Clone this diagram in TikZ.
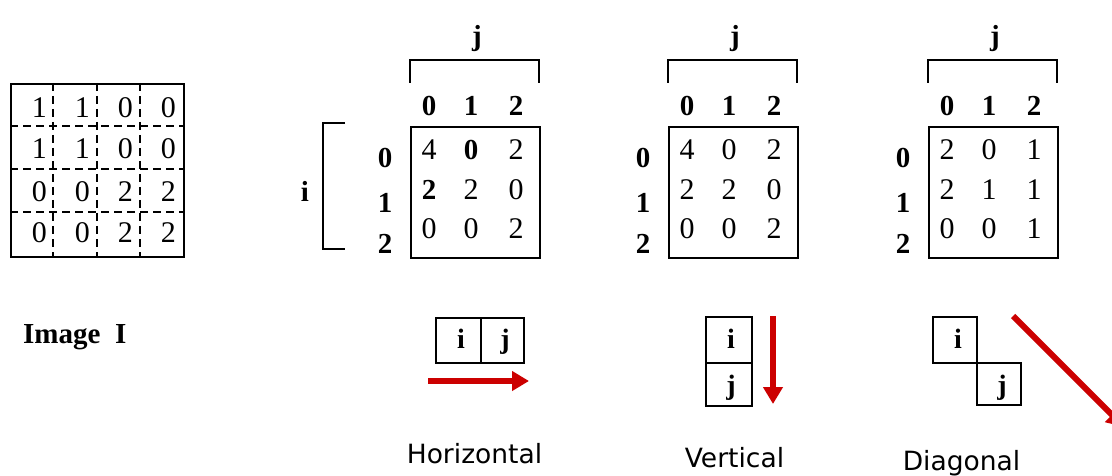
\documentclass[tikz,border=0pt]{standalone}
\usepackage{fontspec}
\setmainfont{Liberation Serif}
\newfontfamily\captionsans{DejaVu Sans}
\usetikzlibrary{arrows.meta}
\definecolor{arrowred}{HTML}{CC0000}
\begin{document}
\begin{tikzpicture}[x=1pt,y=-1pt,
  num/.style={font=\fontsize{30}{33}\selectfont, inner sep=0pt, anchor=base},
  bnum/.style={font=\fontsize{29}{32}\selectfont\bfseries, inner sep=0pt, anchor=base},
  rnum/.style={font=\fontsize{30}{33}\selectfont, inner sep=0pt, anchor=base east},
  letter/.style={font=\fontsize{28}{31}\selectfont\bfseries, inner sep=0pt, anchor=base},
  caption/.style={font=\captionsans\fontsize{26.5}{30}\selectfont, inner sep=0pt, anchor=base},
  frame/.style={line width=2pt},
  dashline/.style={line width=1.5pt, dash pattern=on 8pt off 5pt},
  matbox/.style={draw, frame, minimum width=129pt, minimum height=131pt, inner sep=0pt, anchor=north west},
  cellbox/.style={draw, line width=1.8pt, inner sep=0pt, anchor=north west},
  redarrow/.style={draw=arrowred, line width=6pt, -{Triangle[length=17pt,width=19pt]}}
]
\clip (0,0) rectangle (1112,476);
\fill[white] (0,0) rectangle (1112,476);

% ---------- image I: 4x4 grid with dashed cell borders ----------
\node[draw, frame, minimum width=173pt, minimum height=173pt, inner sep=0pt, anchor=north west] (img) at (10,83) {};
\foreach \x in {53,97,140} \draw[dashline] (\x,83) -- (\x,256);
\foreach \y in {126,169,212} \draw[dashline] (10,\y) -- (183,\y);
\foreach \r/\b/\va/\vb/\vc/\vd in {0/118/1/1/0/0, 1/159/1/1/0/0, 2/201/0/0/2/2, 3/243/0/0/2/2}{
  \node[rnum] (img-\r-0) at (47,\b) {\va};
  \node[rnum] (img-\r-1) at (90,\b) {\vb};
  \node[rnum] (img-\r-2) at (133,\b) {\vc};
  \node[rnum] (img-\r-3) at (176,\b) {\vd};
}
\node[font=\fontsize{29}{32}\selectfont\bfseries, inner sep=0pt, anchor=base west] (imglabel) at (23,343) {Image\ \ I};

% ---------- three co-occurrence matrices: frame, j bracket, indices ----------
\foreach \m/\L in {h/410, v/668, d/928}{
  \node[matbox] (\m-box) at (\L,126) {};
  \draw[frame] (\L,83) -- (\L,60) -- (\L+129,60) -- (\L+129,83);
  \node[bnum] (\m-j) at (\L+67,46) {j};
  \node[bnum] (\m-c0) at (\L+19,116) {0};
  \node[bnum] (\m-c1) at (\L+61,116) {1};
  \node[bnum] (\m-c2) at (\L+106,116) {2};
  \node[bnum] (\m-r0) at (\L-25,168) {0};
  \node[bnum] (\m-r1) at (\L-25,212) {1};
  \node[bnum] (\m-r2) at (\L-25,253) {2};
}
% i bracket of the first matrix
\draw[frame] (345,123) -- (323,123) -- (323,249) -- (345,249);
\node[bnum] (h-i) at (305,202) {i};

% horizontal matrix entries
\node[num]  (h00) at (429,160) {4};
\node[bnum] (h01) at (471,160) {0};
\node[num]  (h02) at (516,160) {2};
\node[bnum] (h10) at (429,200) {2};
\node[num]  (h11) at (471,200) {2};
\node[num]  (h12) at (516,200) {0};
\node[num]  (h20) at (429,239) {0};
\node[num]  (h21) at (471,239) {0};
\node[num]  (h22) at (516,239) {2};

% vertical and diagonal matrix entries
\foreach \m/\L/\a/\b/\c/\d/\e/\f/\g/\hh/\k in {v/668/4/0/2/2/2/0/0/0/2, d/928/2/0/1/2/1/1/0/0/1}{
  \node[num] (\m00) at (\L+19,160) {\a};
  \node[num] (\m01) at (\L+61,160) {\b};
  \node[num] (\m02) at (\L+106,160) {\c};
  \node[num] (\m10) at (\L+19,200) {\d};
  \node[num] (\m11) at (\L+61,200) {\e};
  \node[num] (\m12) at (\L+106,200) {\f};
  \node[num] (\m20) at (\L+19,239) {\g};
  \node[num] (\m21) at (\L+61,239) {\hh};
  \node[num] (\m22) at (\L+106,239) {\k};
}

% ---------- pixel pairs and their directions ----------
% horizontal
\node[cellbox, minimum width=45pt, minimum height=45pt] (hp-i) at (435,317) {};
\node[cellbox, minimum width=43pt, minimum height=45pt] (hp-j) at (480,317) {};
\node[letter] (hp-il) at (461,348) {i};
\node[letter] (hp-jl) at (505,348) {j};
\coordinate (ha-s) at (428,381);
\coordinate (ha-e) at (529,381);
\draw[redarrow] (ha-s) -- (ha-e);
\node[caption] (cap-h) at (474.5,463) {Horizontal};

% vertical
\node[cellbox, minimum width=46pt, minimum height=46pt] (vp-i) at (705,316) {};
\node[cellbox, minimum width=46pt, minimum height=43pt] (vp-j) at (705,362) {};
\node[letter] (vp-il) at (731,348) {i};
\node[letter] (vp-jl) at (731,394) {j};
\coordinate (va-s) at (773,316);
\coordinate (va-e) at (773,404);
\draw[redarrow] (va-s) -- (va-e);
\node[caption] (cap-v) at (734.5,467) {Vertical};

% diagonal
\node[cellbox, minimum width=44pt, minimum height=46pt] (dp-i) at (932,316) {};
\node[cellbox, minimum width=44pt, minimum height=42pt] (dp-j) at (976,362) {};
\node[letter] (dp-il) at (958,348) {i};
\node[letter] (dp-jl) at (1002,394) {j};
\coordinate (da-s) at (1013,316);
\coordinate (da-e) at (1124,427);
\draw[redarrow] (da-s) -- (da-e);
\node[caption] (cap-d) at (961.5,470) {Diagonal};
\end{tikzpicture}
\end{document}
